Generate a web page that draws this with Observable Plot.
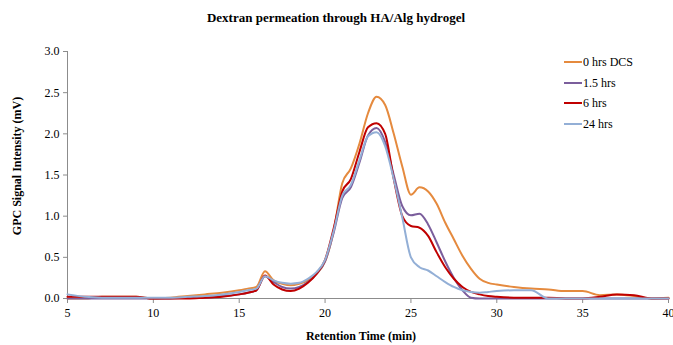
<!DOCTYPE html>
<html>
<head>
<meta charset="utf-8">
<script src="https://cdn.jsdelivr.net/npm/d3@7"></script>
<script src="https://cdn.jsdelivr.net/npm/@observablehq/plot@0.6"></script>
<style>
  html, body { margin: 0; padding: 0; background: #fff; }
  #chart { width: 673px; height: 345px; }
  #chart svg text { font-family: "Liberation Serif", "Times New Roman", serif !important; }
</style>
</head>
<body>
<div id="chart"></div>
<script>
const title = "Dextran permeation through HA/Alg hydrogel";
const xLabel = "Retention Time (min)";
const yLabel = "GPC Signal Intensity (mV)";
const seriesNames = ["0 hrs DCS", "1.5 hrs", "6 hrs", "24 hrs"];
const seriesColors = ["#E58A3E", "#7B5E9C", "#C00000", "#93AFD6"];
const xTicks = [5, 10, 15, 20, 25, 30, 35, 40];
const yTicks = [0, 0.5, 1.0, 1.5, 2.0, 2.5, 3.0];

const time = [5,6,7,8,9,10,11,12,13,14,15,15.5,16,16.5,17,17.5,18,18.5,19,19.5,20,20.5,21,21.5,22,22.5,23,23.5,24,24.5,25,25.5,26,26.5,27,27.5,28,28.5,29,29.5,30,31,32,33,34,35,36,37,38,39,40];

const hrs0 = [0.0,0.0,0.02,0.02,0.02,0.0,0.01,0.03,0.05,0.07,0.1,0.12,0.14,0.33,0.22,0.18,0.16,0.18,0.22,0.3,0.45,0.82,1.4,1.58,1.88,2.25,2.45,2.35,2.0,1.6,1.26,1.35,1.3,1.15,0.92,0.72,0.52,0.36,0.24,0.19,0.17,0.14,0.12,0.11,0.09,0.09,0.04,0.05,0.03,0.0,0.01];

const hrs1_5 = [0.0,0.0,0.0,0.0,0.0,0.0,0.0,0.01,0.01,0.03,0.05,0.07,0.1,0.27,0.2,0.14,0.12,0.14,0.2,0.3,0.45,0.8,1.22,1.35,1.65,1.98,2.07,1.9,1.5,1.12,1.01,1.03,0.9,0.68,0.45,0.25,0.1,0.01,0.0,0.0,0.0,0.0,0.0,0.0,0.0,0.0,0.0,0.0,0.0,0.0,0.0];

const hrs6 = [0.02,0.02,0.02,0.02,0.02,0.0,0.0,0.0,0.01,0.02,0.05,0.07,0.1,0.28,0.17,0.11,0.09,0.12,0.19,0.3,0.47,0.85,1.3,1.45,1.78,2.08,2.13,2.0,1.45,1.0,0.88,0.86,0.76,0.56,0.38,0.24,0.14,0.08,0.05,0.03,0.02,0.01,0.01,0.01,0.0,0.0,0.02,0.05,0.04,0.0,0.0];

const hrs24 = [0.05,0.02,0.01,0.01,0.01,0.01,0.01,0.02,0.03,0.05,0.08,0.1,0.12,0.27,0.22,0.19,0.18,0.19,0.24,0.32,0.47,0.82,1.25,1.38,1.68,1.97,2.02,1.85,1.45,0.98,0.5,0.38,0.34,0.27,0.2,0.14,0.1,0.08,0.07,0.08,0.09,0.1,0.1,0.0,0.0,0.0,0.0,0.0,0.0,0.0,0.0];

const seriesValues = [hrs0, hrs1_5, hrs6, hrs24];
const rows = [];
seriesNames.forEach((name, i) => {
  time.forEach((t, j) => rows.push({series: name, t, v: seriesValues[i][j]}));
});

const font = "Liberation Serif, Times New Roman, serif";

const chart = Plot.plot({
  width: 673,
  height: 345,
  marginTop: 51,
  marginBottom: 47,
  marginLeft: 67,
  marginRight: 5,
  style: {fontFamily: font, fontSize: "12px", color: "#000", background: "#fff"},
  x: {domain: [5, 40], ticks: xTicks, label: null},
  y: {domain: [0, 3], ticks: yTicks, label: null, tickFormat: d3.format(".1f")},
  color: {domain: seriesNames, range: seriesColors},
  marks: [
    Plot.ruleX([5], {stroke: "#8c8c8c"}),
    Plot.ruleY([0], {stroke: "#8c8c8c"}),
    Plot.axisY({ticks: yTicks, tickSize: 4, tickPadding: 4, stroke: "#8c8c8c", tickFormat: d3.format(".1f"), fontSize: 12, fontFamily: font, label: null}),
    Plot.axisX({ticks: xTicks, tickSize: 5, tickPadding: 5, stroke: "#8c8c8c", fontSize: 12, fontFamily: font, label: null}),
    Plot.line(rows, {x: "t", y: "v", z: "series", stroke: "series", strokeWidth: 2, curve: "monotone-x"})
  ]
});

document.getElementById("chart").appendChild(chart);

const svg = d3.select(chart);
svg.append("text")
  .attr("x", 336).attr("y", 22)
  .attr("text-anchor", "middle")
  .attr("font-family", font).attr("font-weight", "bold").attr("font-size", 13)
  .attr("fill", "#000")
  .text(title);
svg.append("text")
  .attr("x", 361).attr("y", 340)
  .attr("text-anchor", "middle")
  .attr("font-family", font).attr("font-weight", "bold").attr("font-size", 12)
  .attr("fill", "#000")
  .text(xLabel);
svg.append("text")
  .attr("transform", "translate(21,166) rotate(-90)")
  .attr("text-anchor", "middle")
  .attr("font-family", font).attr("font-weight", "bold").attr("font-size", 12)
  .attr("fill", "#000")
  .text(yLabel);

const legendRows = [62, 83, 103, 124];
const lg = svg.append("g").attr("text-anchor", "start");
seriesNames.forEach((name, i) => {
  lg.append("line")
    .attr("x1", 564).attr("x2", 582)
    .attr("y1", legendRows[i]).attr("y2", legendRows[i])
    .attr("stroke", seriesColors[i]).attr("stroke-width", 2);
  lg.append("text")
    .attr("x", 583).attr("y", legendRows[i])
    .attr("dy", "0.35em")
    .attr("text-anchor", "start")
    .attr("font-family", font).attr("font-size", 12)
    .attr("fill", "#000")
    .text(name);
});
</script>
</body>
</html>
